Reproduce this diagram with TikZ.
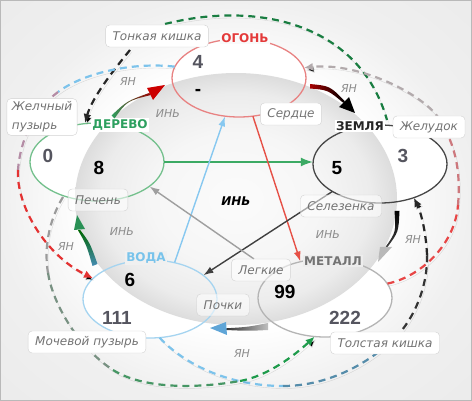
\documentclass[tikz,border=0pt]{standalone}
\usepackage{fontspec}
\setmainfont{DejaVu Sans}
\newfontfamily\numfont{Liberation Sans}
\usetikzlibrary{arrows.meta, positioning, shapes.geometric, calc}

\definecolor{firered}{RGB}{228,58,58}
\definecolor{fireline}{RGB}{232,130,130}
\definecolor{woodgreen}{RGB}{45,160,95}
\definecolor{woodline}{RGB}{115,192,140}
\definecolor{earthline}{RGB}{70,70,70}
\definecolor{metalgray}{RGB}{115,115,115}
\definecolor{metalline}{RGB}{180,180,180}
\definecolor{waterblue}{RGB}{120,195,235}
\definecolor{waterline}{RGB}{165,212,240}
\definecolor{numgray}{RGB}{85,85,95}
\definecolor{innergreen}{RGB}{60,170,100}
\definecolor{innerred}{RGB}{230,80,70}
\definecolor{innerblue}{RGB}{135,200,240}
\definecolor{dashblue}{RGB}{125,195,235}
\definecolor{dashmauve}{RGB}{180,140,165}
\definecolor{dashred}{RGB}{228,50,50}
\definecolor{dashrose}{RGB}{205,120,125}
\definecolor{dashgray}{RGB}{178,170,172}
\definecolor{dashsteel}{RGB}{85,140,170}
\definecolor{dashgreen}{RGB}{25,125,65}
\definecolor{fgray}{RGB}{155,155,155}
\definecolor{fgraygreen}{RGB}{120,145,130}
\definecolor{fgreenmid}{RGB}{70,150,100}
\definecolor{fgreen}{RGB}{30,155,75}
\definecolor{headblue}{RGB}{95,165,215}
\definecolor{steel}{RGB}{70,140,180}

\pgfdeclareradialshading{bgshade}{\pgfpointorigin}{color(0bp)=(white); color(16bp)=(white); color(25bp)=(gray!12); color(50bp)=(gray!20)}
\pgfdeclareradialshading{ballshade}{\pgfpointorigin}{color(0bp)=(gray!3); color(13bp)=(gray!7); color(21bp)=(gray!15); color(25bp)=(gray!27); color(50bp)=(gray!27)}

\begin{document}
\begin{tikzpicture}[x=1pt, y=-1pt,
    elem/.style={ellipse, minimum width=134pt, minimum height=78pt, inner sep=0pt},
    organ/.style={draw=gray!35, fill=white, rounded corners=4pt, text=black!55,
        font=\fontsize{12}{19}\selectfont\itshape, inner xsep=7pt, inner ysep=3pt, minimum height=22pt},
    organin/.style={organ, fill opacity=0.55, text opacity=1},
    elemname/.style={font=\fontsize{12}{14}\selectfont\bfseries, inner sep=1.5pt},
    num/.style={font=\numfont\fontsize{19}{19}\selectfont\bfseries},
    yin/.style={font=\fontsize{11}{13}\selectfont\itshape, text=black!45},
    inarrow/.style={-{Latex[length=10pt,width=7pt]}, line width=1.4pt},
    yangdash/.style={line width=2.2pt, dash pattern=on 7pt off 5pt,
        preaction={draw=black, draw opacity=0.12, transform canvas={shift={(1.5pt,-2.5pt)}}}},
    dashtip/.style={-{Latex[length=9pt,width=8pt]}}
]
\useasboundingbox (0,0) rectangle (472,401);

% background
\shade[shading=bgshade] (0,0) rectangle (472,401);
\draw[gray!55, line width=1.2pt] (0,0) rectangle (472,401);

% elements (white part)
\node[elem, fill=white] (fire) at (239,78) {};
\node[elem, fill=white] (wood) at (97,162) {};
\node[elem, fill=white] (earth) at (380,164) {};
\node[elem, fill=white] (metal) at (325,298) {};
\node[elem, fill=white] (water) at (150,299) {};

% sphere
\shade[shading=ballshade] (236,199) ellipse [x radius=161, y radius=126];

% element outlines
\foreach \e/\c in {fire/fireline, wood/woodline, earth/earthline, metal/metalline, water/waterline}
    \node[elem, draw=\c, line width=1.3pt] at (\e) {};

% element names
\node[elemname, text=firered, fill=gray!4] (firename) at (245,38) {ОГОНЬ};
\node[elemname, text=woodgreen, fill=white] (woodname) at (120,125) {ДЕРЕВО};
\node[elemname, text=black!85, fill=white] (earthname) at (360,126) {ЗЕМЛЯ};
\node[elemname, text=metalgray, fill=gray!14] (metalname) at (333,261) {МЕТАЛЛ};
\node[elemname, text=waterblue, fill=gray!12] (watername) at (146,258) {ВОДА};

% dashed yang paths
\coordinate (aStart) at (130,50);
\coordinate (aEnd) at (85,123);
\draw[yangdash, black!85, dashtip] (aStart) .. controls (112,72) and (92,98) .. (aEnd);

\draw[yangdash, dashblue] (fire.170) .. controls (135,62) and (85,72) .. (58,92);
\draw[yangdash, dashmauve] (58,92) .. controls (35,109) and (20,140) .. (18,170);
\draw[yangdash, dashred, dashtip] (18,170) .. controls (16,205) and (45,255) .. (water.160);

\coordinate (cStart) at (165,24);
\coordinate (cEnd) at (387,120);
\draw[yangdash, dashgreen] (cStart) .. controls (260,0) and (360,25) .. (cEnd);

\draw[yangdash, dashred!90] (metal.13) .. controls (420,277) and (455,245) .. (458,205);
\draw[yangdash, dashrose] (458,205) .. controls (461,170) and (455,145) .. (440,120);
\draw[yangdash, dashgray, dashtip] (440,120) .. controls (425,95) and (360,62) .. (fire.9);

\draw[yangdash, dashblue] (water.-76) .. controls (185,365) and (230,386) .. (283,386);
\draw[yangdash, dashsteel] (283,386) .. controls (330,386) and (370,362) .. (395,338);
\draw[yangdash, black!80] (395,338) .. controls (415,318) and (428,285) .. (427,255);
\draw[yangdash, black!85, dashtip] (427,255) .. controls (426,230) and (420,210) .. (earth.-45);

\coordinate (fStart) at (63,197);
\draw[yangdash, fgray] (fStart) .. controls (48,222) and (44,250) .. (48,273);
\draw[yangdash, fgraygreen] (48,273) .. controls (52,300) and (75,345) .. (113,370);
\draw[yangdash, fgreenmid] (113,370) .. controls (145,390) and (200,388) .. (240,381);
\draw[yangdash, fgreen, dashtip] (240,381) .. controls (268,376) and (295,355) .. (metal.-105);

% inner star
\coordinate (lungTop) at (254,259);
\draw[inarrow, innergreen, -{Latex[length=12pt,width=9pt]}] (wood.east) -- (wood.east -| earth.west);
\draw[inarrow, innerred] (fire.-70) -- (metal.124);
\draw[inarrow, innerblue] (water.56) -- (fire.250);
\draw[inarrow, black!75] (earth.210) -- (water.24);
\draw[inarrow, gray!75] (lungTop) -- (wood.-25);

% arrows on the rim
\shade[left color=woodgreen, right color=red!60!black] (114.5,118.5) .. controls (127,101) .. (150.8,95) -- (149.2,93) .. controls (127,101) .. (111.5,115.5) -- cycle;
\fill[red!80!black] (147,88) -- (165,85) -- (153,100) -- cycle;
\shade[left color=red!65!black, right color=black] (310,84) .. controls (330,86) .. (344.8,101.2) -- (343.2,102.8) .. controls (328,90) .. (310,88.5) -- cycle;
\fill[black] (339,107) -- (349,97) -- (355,113) -- cycle;
\shade[top color=black, bottom color=black!75] (394.5,211) .. controls (396,232) .. (385.5,247) -- (387.5,247) .. controls (398.5,232) .. (399.5,211) -- cycle;
\fill[gray!55] (380,247) -- (392,247) -- (378,262) -- cycle;
\shade[left color=black!80, right color=gray!50] (268,323) .. controls (248,327) .. (226,328.3) -- (226,330) .. controls (248,331) .. (268,330) -- cycle;
\fill[headblue] (210,328) -- (226,322) -- (227,335) -- cycle;
\shade[top color=green!40!black, bottom color=steel] (92.5,266) .. controls (86.5,245) .. (78,230.2) -- (80,229.8) .. controls (90,243) .. (97.5,264) -- cycle;
\fill[woodgreen!90!black] (74,230) -- (77,215) -- (85,229) -- cycle;

% yin / yang
\node[yin] (yang1) at (128,81) {ЯН};
\node[yin] (yin1) at (168,113) {ИНЬ};
\node[yin] (yang2) at (349,88) {ЯН};
\node[yin] (yang3) at (413,239) {ЯН};
\node[yin] (yin3) at (328,234) {ИНЬ};
\node[yin] (yang4) at (242,353) {ЯН};
\node[yin] (yang5) at (66,246) {ЯН};
\node[yin] (yin5) at (122,231) {ИНЬ};
\node[yin, font=\fontsize{12}{14}\selectfont\bfseries\itshape, text=black] (yinmid) at (236,201) {ИНЬ};

% organs
\node[organ] (smallint) at (157,36) {Тонкая кишка};
\node[organ, align=left, inner xsep=5pt] (gall) at (42,117) {Желчный\\пузырь};
\node[organ] (heart) at (291,114) {Сердце};
\node[organ] (stomach) at (429,127) {Желудок};
\node[organin] (liver) at (98,200) {Печень};
\node[organin] (spleen) at (341,206) {Селезенка};
\node[organin] (lung) at (261,270) {Легкие};
\node[organin] (kidney) at (223,305) {Почки};
\node[organ] (bladder) at (87,342) {Мочевой пузырь};
\node[organ] (colon) at (385,343) {Толстая кишка};

% numbers
\node[num, numgray] (n4) at (198,62) {4};
\node[num] (nfire) at (198,92) {-};
\node[num, numgray] (n0) at (48,156) {0};
\node[num] (n8) at (99,168) {8};
\node[num] (n5) at (337,168) {5};
\node[num, numgray] (n3) at (403,156) {3};
\node[num] (n6) at (130,280) {6};
\node[num, numgray] (n111) at (117,318) {111};
\node[num] (n99) at (285,292) {99};
\node[num, numgray] (n222) at (345,318) {222};

\end{tikzpicture}
\end{document}
